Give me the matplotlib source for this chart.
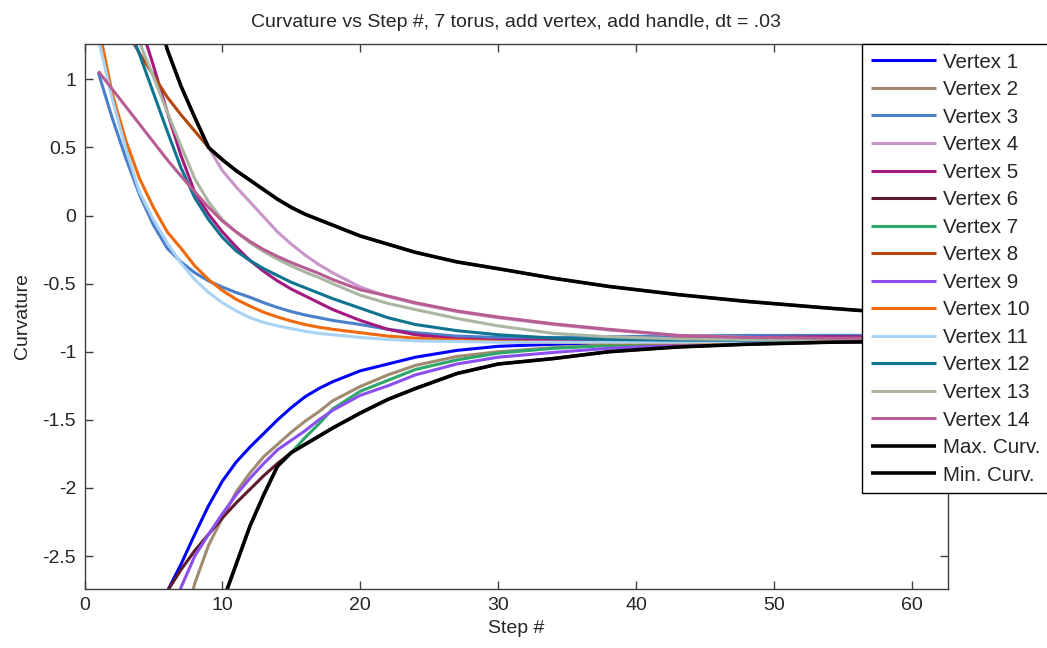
import matplotlib
matplotlib.use("Agg")
import matplotlib.pyplot as plt

plt.rcParams['font.family'] = ['Liberation Sans', 'DejaVu Sans']

steps = [1, 2, 3, 4, 5, 6, 7, 8, 9, 10, 11, 12, 13, 14, 15, 16, 17, 18,
         20, 22, 24, 27, 30, 34, 38, 43, 48, 54, 62]

v1 = [-6.5, -5.5, -4.6, -3.85, -3.2, -2.76, -2.56, -2.34, -2.13, -1.95, -1.81, -1.70, -1.60, -1.50, -1.41, -1.33, -1.27, -1.22,
      -1.14, -1.09, -1.04, -0.99, -0.96, -0.945, -0.935, -0.93, -0.925, -0.92, -0.92]
v2 = [-6.6, -5.8, -5.2, -4.7, -4.25, -3.7, -3.1, -2.70, -2.42, -2.22, -2.03, -1.89, -1.77, -1.68, -1.59, -1.51, -1.44, -1.36,
      -1.255, -1.17, -1.10, -1.035, -1.00, -0.97, -0.95, -0.935, -0.93, -0.925, -0.92]
v3 = [1.05, 0.72, 0.42, 0.15, -0.07, -0.24, -0.34, -0.42, -0.48, -0.525, -0.565, -0.60, -0.64, -0.675, -0.705, -0.73, -0.75, -0.77,
      -0.80, -0.835, -0.86, -0.885, -0.895, -0.895, -0.89, -0.885, -0.88, -0.88, -0.88]
v4 = [4.2, 3.3, 2.6, 2.05, 1.6, 1.22, 0.95, 0.72, 0.50, 0.33, 0.21, 0.10, -0.01, -0.12, -0.21, -0.29, -0.36, -0.42,
      -0.525, -0.595, -0.645, -0.705, -0.75, -0.80, -0.84, -0.88, -0.895, -0.90, -0.90]
v5 = [2.6, 2.2, 1.8, 1.42, 1.10, 0.76, 0.44, 0.17, 0.01, -0.12, -0.23, -0.33, -0.41, -0.48, -0.54, -0.59, -0.64, -0.69,
      -0.77, -0.835, -0.875, -0.905, -0.915, -0.915, -0.91, -0.90, -0.895, -0.89, -0.89]
v6 = [-5.0, -4.4, -3.9, -3.45, -3.05, -2.76, -2.60, -2.46, -2.34, -2.22, -2.11, -2.01, -1.91, -1.82, -1.74, -1.68, -1.62, -1.56,
      -1.45, -1.35, -1.27, -1.16, -1.09, -1.05, -1.00, -0.965, -0.945, -0.93, -0.92]
v7 = [-7.0, -6.2, -5.5, -4.9, -4.4, -3.95, -3.6, -3.3, -3.05, -2.84, -2.56, -2.28, -2.05, -1.84, -1.74, -1.63, -1.53, -1.42,
      -1.29, -1.21, -1.13, -1.06, -1.01, -0.975, -0.955, -0.94, -0.93, -0.925, -0.92]
v8 = [1.75, 1.55, 1.36, 1.19, 1.03, 0.87, 0.74, 0.62, 0.50, 0.41, 0.33, 0.26, 0.19, 0.12, 0.06, 0.01, -0.03, -0.07,
      -0.15, -0.21, -0.27, -0.34, -0.39, -0.46, -0.52, -0.58, -0.63, -0.68, -0.74]
v9 = [-6.0, -5.3, -4.7, -4.1, -3.6, -3.1, -2.73, -2.50, -2.34, -2.19, -2.05, -1.93, -1.82, -1.72, -1.65, -1.58, -1.50, -1.43,
      -1.32, -1.25, -1.17, -1.09, -1.04, -1.005, -0.975, -0.952, -0.94, -0.93, -0.925]
v10 = [1.40, 0.90, 0.55, 0.27, 0.06, -0.12, -0.24, -0.37, -0.47, -0.55, -0.615, -0.665, -0.71, -0.745, -0.775, -0.80, -0.82, -0.835,
       -0.86, -0.885, -0.90, -0.915, -0.925, -0.93, -0.935, -0.935, -0.93, -0.925, -0.92]
v11 = [1.30, 0.86, 0.49, 0.17, -0.03, -0.20, -0.35, -0.47, -0.565, -0.64, -0.70, -0.75, -0.785, -0.81, -0.83, -0.85, -0.865, -0.875,
       -0.895, -0.91, -0.92, -0.925, -0.93, -0.93, -0.93, -0.93, -0.925, -0.92, -0.92]
v12 = [2.2, 1.8, 1.45, 1.18, 0.90, 0.62, 0.35, 0.13, -0.03, -0.16, -0.26, -0.33, -0.39, -0.44, -0.49, -0.53, -0.57, -0.61,
       -0.68, -0.75, -0.80, -0.845, -0.875, -0.90, -0.91, -0.915, -0.915, -0.91, -0.91]
v13 = [2.4, 2.0, 1.62, 1.27, 1.02, 0.76, 0.51, 0.27, 0.10, -0.03, -0.12, -0.20, -0.265, -0.32, -0.37, -0.415, -0.455, -0.50,
       -0.585, -0.645, -0.69, -0.755, -0.81, -0.865, -0.89, -0.905, -0.91, -0.91, -0.91]
v14 = [1.06, 0.93, 0.80, 0.67, 0.54, 0.41, 0.29, 0.175, 0.06, -0.04, -0.12, -0.19, -0.25, -0.30, -0.345, -0.385, -0.425, -0.47,
       -0.545, -0.59, -0.64, -0.70, -0.745, -0.795, -0.835, -0.88, -0.895, -0.90, -0.90]
max_curv = [4.2, 3.3, 2.6, 2.05, 1.6, 1.22, 0.95, 0.72, 0.50, 0.41, 0.33, 0.26, 0.19, 0.12, 0.06, 0.01, -0.03, -0.07,
            -0.15, -0.21, -0.27, -0.34, -0.39, -0.46, -0.52, -0.58, -0.63, -0.68, -0.74]
min_curv = [-7.0, -6.2, -5.5, -4.9, -4.4, -3.95, -3.6, -3.3, -3.05, -2.84, -2.56, -2.28, -2.05, -1.84, -1.74, -1.68, -1.62, -1.56,
            -1.45, -1.35, -1.27, -1.16, -1.09, -1.05, -1.00, -0.965, -0.945, -0.93, -0.92]

series = [v1, v2, v3, v4, v5, v6, v7, v8, v9, v10, v11, v12, v13, v14, max_curv, min_curv]
labels = ['Vertex %d' % i for i in range(1, 15)] + ['Max. Curv.', 'Min. Curv.']
colors = ['#0000FF', '#A08A70', '#4A7FCA', '#C896C8', '#A3197F', '#5C1A2A', '#2EA76B',
          '#B5470E', '#8B4FF0', '#EE6A0C', '#A9D3F4', '#0F7490', '#AAB6A2', '#B85D94',
          '#000000', '#000000']

W, H = 1047, 648
fig = plt.figure(figsize=(W / 100, H / 100), dpi=100)
left, right, top, bottom = 84.5, 947.7, 44, 588.7
ax = fig.add_axes([left / W, (H - bottom) / H, (right - left) / W, (bottom - top) / H])

for s, lab, c in zip(series, labels, colors):
    lw = 2.6 if c == '#000000' else 2.2
    ax.plot(steps, s, color=c, lw=lw, label=lab, solid_capstyle='butt')

ax.set_xlim(0, 62.6)
ax.set_ylim(-2.74, 1.26)
ax.set_xticks([0, 10, 20, 30, 40, 50, 60])
ax.set_yticks([-2.5, -2, -1.5, -1, -0.5, 0, 0.5, 1])
ax.set_yticklabels(['-2.5', '-2', '-1.5', '-1', '-0.5', '0', '0.5', '1'])

axcol = '#404040'
for sp in ax.spines.values():
    sp.set_color(axcol)
    sp.set_linewidth(1.0)
ax.tick_params(direction='in', length=6, width=1.0, top=True, right=True,
               colors=axcol, labelcolor='#262626', labelsize=14, pad=6)

ax.set_title('Curvature vs Step #, 7 torus, add vertex, add handle, dt = .03',
             fontsize=14, color='#262626', pad=12)
ax.set_xlabel('Step #', fontsize=14, color='#262626', labelpad=4)
ax.set_ylabel('Curvature', fontsize=14, color='#262626', labelpad=8)

leg = ax.legend(loc='upper left', bbox_to_anchor=(862 / W, (H - 44) / H),
                bbox_transform=fig.transFigure, borderaxespad=0,
                fontsize=14.8, frameon=True, fancybox=False, shadow=False,
                handlelength=3.2, handletextpad=0.3, labelspacing=0.415,
                borderpad=0.42)
leg.get_frame().set_edgecolor('#000000')
leg.get_frame().set_linewidth(1.0)
leg.get_frame().set_alpha(1)
for t in leg.get_texts():
    t.set_color('#262626')

fig.savefig('out.png', dpi=100)
